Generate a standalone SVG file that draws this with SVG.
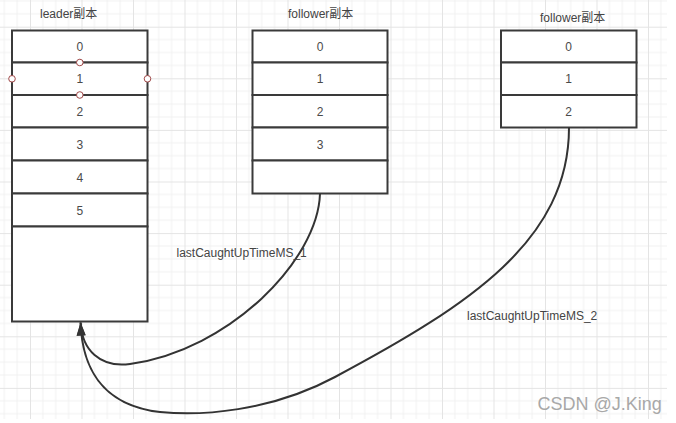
<svg xmlns="http://www.w3.org/2000/svg" width="676" height="423" viewBox="0 0 676 423">
  <style>
    .cell { fill: #ffffff; stroke: #3a3a3a; stroke-width: 2; }
    .num { font-family: "Liberation Sans", "Noto Sans CJK SC", sans-serif; font-size: 12px; fill: #4a4a4a; text-anchor: middle; }
    .title { font-family: "Liberation Sans", "Noto Sans CJK SC", sans-serif; font-size: 12px; fill: #444444; }
    .lbl { font-family: "Liberation Sans", "Noto Sans CJK SC", sans-serif; font-size: 12px; fill: #444444; }
    .edge { fill: none; stroke: #333333; stroke-width: 2; }
    .handle { fill: #ffffff; stroke: #a04848; stroke-width: 1; }
    .wm { font-family: "Liberation Sans", sans-serif; font-size: 18px; fill: #a8a8a8; }
  </style>
  <defs>
    <pattern id="grid" patternUnits="userSpaceOnUse" x="30" y="26.7" width="51.5" height="51.6">
      <path d="M12.875 0V51.6M25.75 0V51.6M38.625 0V51.6M0 12.9H51.5M0 25.8H51.5M0 38.7H51.5" stroke="#f1f1f1" stroke-width="1" fill="none"/>
      <path d="M0.5 0V51.6M0 0.5H51.5" stroke="#e4e4e4" stroke-width="1" fill="none"/>
    </pattern>
    <marker id="arrow" markerUnits="userSpaceOnUse" markerWidth="16" markerHeight="12" viewBox="-14 -6 16 12" refX="0" refY="0" orient="auto">
      <path d="M0 0L-13 -4.5L-13 4.5Z" fill="#333333"/>
    </marker>
  </defs>

  <rect x="0" y="0" width="676" height="423" fill="#ffffff"/>
  <rect x="0" y="0" width="667" height="419" fill="url(#grid)"/>

  <g id="leader">
    <text class="title" x="40" y="17.5">leader副本</text>
    <rect class="cell" x="12" y="30.5" width="135.5" height="32"/>
    <rect class="cell" x="12" y="62.5" width="135.5" height="32.5"/>
    <rect class="cell" x="12" y="95" width="135.5" height="32.5"/>
    <rect class="cell" x="12" y="127.5" width="135.5" height="33"/>
    <rect class="cell" x="12" y="160.5" width="135.5" height="33"/>
    <rect class="cell" x="12" y="193.5" width="135.5" height="33"/>
    <rect class="cell" x="12" y="226.5" width="135.5" height="95"/>
    <text class="num" x="79.8" y="51">0</text>
    <text class="num" x="79.8" y="83">1</text>
    <text class="num" x="79.8" y="115.5">2</text>
    <text class="num" x="79.8" y="148.5">3</text>
    <text class="num" x="79.8" y="181.5">4</text>
    <text class="num" x="79.8" y="214.5">5</text>
    <circle class="handle" cx="79.8" cy="62.5" r="3.3"/>
    <circle class="handle" cx="79.8" cy="95" r="3.3"/>
    <circle class="handle" cx="12" cy="78.8" r="3.3"/>
    <circle class="handle" cx="147.5" cy="78.8" r="3.3"/>
  </g>

  <g id="follower1">
    <text class="title" x="288" y="17.5">follower副本</text>
    <rect class="cell" x="252.5" y="30.5" width="135" height="32"/>
    <rect class="cell" x="252.5" y="62.5" width="135" height="32.5"/>
    <rect class="cell" x="252.5" y="95" width="135" height="32.5"/>
    <rect class="cell" x="252.5" y="127.5" width="135" height="33"/>
    <rect class="cell" x="252.5" y="160.5" width="135" height="33"/>
    <text class="num" x="320" y="51">0</text>
    <text class="num" x="320" y="83">1</text>
    <text class="num" x="320" y="115.5">2</text>
    <text class="num" x="320" y="148.5">3</text>
  </g>

  <g id="follower2">
    <text class="title" x="540" y="22">follower副本</text>
    <rect class="cell" x="501" y="30.5" width="135.5" height="32"/>
    <rect class="cell" x="501" y="62.5" width="135.5" height="32.5"/>
    <rect class="cell" x="501" y="95" width="135.5" height="32.5"/>
    <text class="num" x="568.5" y="51">0</text>
    <text class="num" x="568.5" y="83">1</text>
    <text class="num" x="568.5" y="115.5">2</text>
  </g>

  <g id="connectors">
    <path class="edge" d="M320 193.5C318 260 230 350 130 364C100 368 82 350 80.6 322.5" marker-end="url(#arrow)"/>
    <path class="edge" d="M569 127.5C569 240 470 305 335 377C270 412 200 416 160 412C100 405 82 365 80.6 322.5" marker-end="url(#arrow)"/>
    <text class="lbl" x="176.5" y="257">lastCaughtUpTimeMS_1</text>
    <text class="lbl" x="467" y="320">lastCaughtUpTimeMS_2</text>
  </g>

  <text class="wm" x="537.5" y="410">CSDN @J.King</text>
</svg>
